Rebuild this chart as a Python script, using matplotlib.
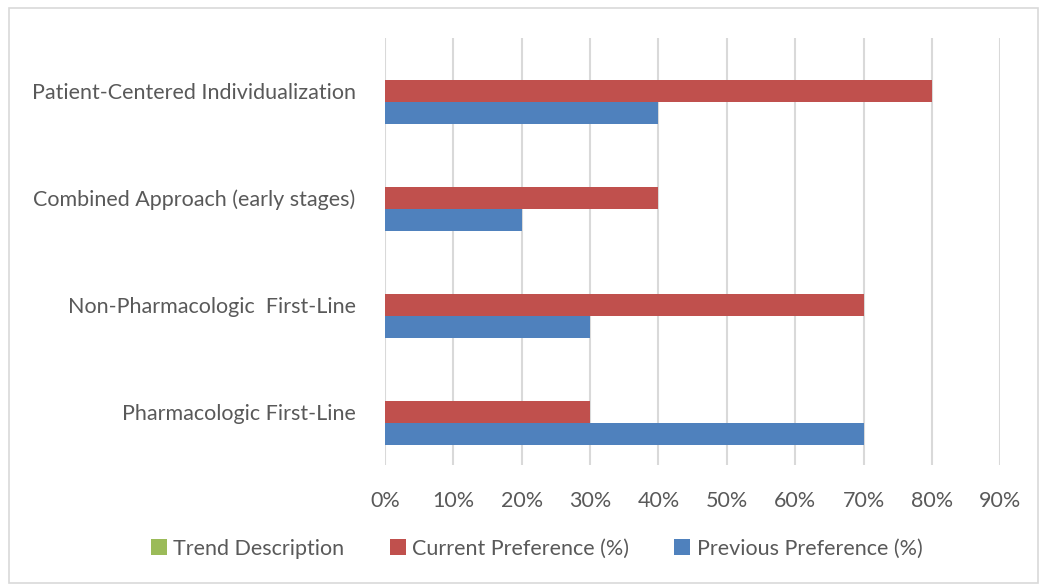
import matplotlib.pyplot as plt
import numpy as np
from matplotlib.patches import Rectangle

categories = ["Pharmacologic First-Line", "Non-Pharmacologic  First-Line",
              "Combined Approach (early stages)", "Patient-Centered Individualization"]
trend = [0, 0, 0, 0]
current = [30, 70, 40, 80]
previous = [70, 30, 20, 40]

plt.rcParams['font.family'] = ['Lato', 'DejaVu Sans']
txt = '#595959'
fs = 15.5

fig = plt.figure(figsize=(10.4, 5.85), dpi=100)
ax = fig.add_axes([0.370, 0.205, 0.592, 0.730])

y = np.arange(len(categories))
h = 0.206
ax.barh(y + h, trend, height=h, color='#9BBB59', label='Trend Description', zorder=3)
ax.barh(y, current, height=h, color='#C0504D', label='Current Preference (%)', zorder=3)
ax.barh(y - h, previous, height=h, color='#4F81BD', label='Previous Preference (%)', zorder=3)

ax.set_xlim(0, 90)
ax.set_ylim(-0.5, 3.5)
ax.set_xticks(range(0, 91, 10))
ax.set_xticklabels([f"{v}%" for v in range(0, 91, 10)], fontsize=fs, color=txt)
ax.set_yticks(y)
ax.set_yticklabels(categories, fontsize=fs, color=txt)
ax.tick_params(axis='both', length=0)
ax.tick_params(axis='x', pad=19)
ax.tick_params(axis='y', pad=21)
ax.grid(axis='x', color='#d9d9d9', linewidth=1.5, zorder=0)
for s in ax.spines.values():
    s.set_visible(False)

fig.legend(loc='center', bbox_to_anchor=(0.516, 0.062), ncol=3, frameon=False,
           fontsize=fs, handlelength=0.75, handleheight=0.75, columnspacing=2.1,
           handletextpad=0.3, labelcolor=txt)

fig.patches.append(Rectangle((9 / 1040, 2 / 585), 1029 / 1040, 575 / 585,
                             transform=fig.transFigure, fill=False,
                             edgecolor='#d9d9d9', linewidth=1.2))

fig.savefig('out.png', dpi=100)
